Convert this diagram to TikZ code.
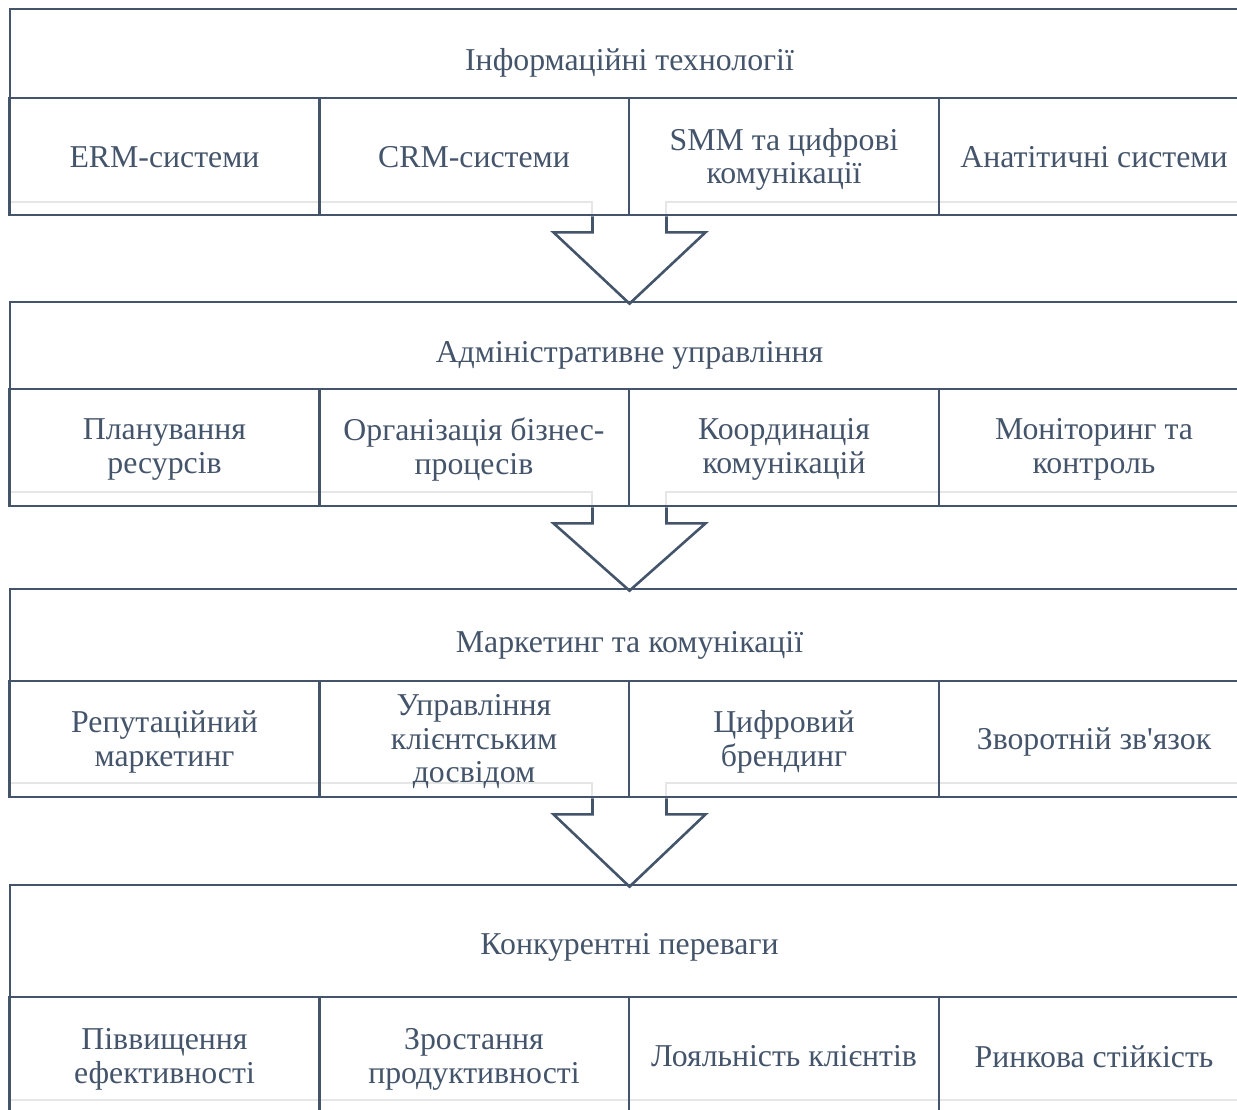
\documentclass[tikz,border=0pt]{standalone}
\usepackage{fontspec}
\setmainfont{Liberation Serif}
\usetikzlibrary{calc}
\definecolor{slate}{HTML}{44546A}
\definecolor{faint}{HTML}{E6E6E6}
\begin{document}
\begin{tikzpicture}[x=1pt,y=-1pt,
  txt/.style={inner sep=0pt, align=center, text=slate,
    font=\fontsize{31.8}{33.5}\selectfont},
  box/.style={draw=slate, line width=2.7pt, rectangle, inner sep=0pt},
  header/.style={box, minimum width=1239pt},
  cell/.style={box, minimum width=310pt},
  shade/.style={draw=faint, line width=2pt},
  flow/.style={draw=slate, line width=2.6pt, line join=miter}]
\useasboundingbox (0,0) rectangle (1237,1109);
\clip (0,0) rectangle (1237,1109);

% faint under-lines along the bottom of each row of cells
\foreach \y/\b in {202/215, 492/506, 783/797} {
  \draw[shade] (10,\y) -- (592,\y) -- (592,\b);
  \draw[shade] (666,\b) -- (666,\y) -- (1237,\y);
}
\draw[shade] (10,1100) -- (1237,1100);

% level 1
\node[header, minimum height=89pt,
  label={[txt, yshift=-9pt]center:Інформаційні технології}] (h1) at (629.5,53.5) {};
\node[cell, minimum height=117pt,
  label={[txt, yshift=-1pt]center:ERM-системи}] (c11) at (164.5,156.5) {};
\node[cell, minimum height=117pt,
  label={[txt, yshift=-1pt]center:CRM-системи}] (c12) at (474,156.5) {};
\node[cell, minimum height=117pt,
  label={[txt, yshift=-3pt]center:{SMM та цифрові\\комунікації}}] (c13) at (784,156.5) {};
\node[cell, minimum height=117pt,
  label={[txt, yshift=-1pt]center:Анатітичні системи}] (c14) at (1094,156.5) {};

% level 2
\node[header, minimum height=87pt,
  label={[txt, yshift=-10pt]center:Адміністративне управління}] (h2) at (629.5,345.5) {};
\node[cell, minimum height=117pt,
  label={[txt, yshift=-2pt]center:{Планування\\ресурсів}}] (c21) at (164.5,447.5) {};
\node[cell, minimum height=117pt,
  label={[txt, yshift=-2pt]center:{Організація бізнес-\\процесів}}] (c22) at (474,447.5) {};
\node[cell, minimum height=117pt,
  label={[txt, yshift=-2pt]center:{Координація\\комунікацій}}] (c23) at (784,447.5) {};
\node[cell, minimum height=117pt,
  label={[txt, yshift=-2pt]center:{Моніторинг та\\контроль}}] (c24) at (1094,447.5) {};

% level 3
\node[header, minimum height=92pt,
  label={[txt, yshift=-10pt]center:Маркетинг та комунікації}] (h3) at (629.5,635) {};
\node[cell, minimum height=116pt,
  label={[txt, yshift=-3pt]center:{Репутаційний\\маркетинг}}] (c31) at (164.5,739) {};
\node[cell, minimum height=116pt,
  label={[txt, yshift=-3pt]center:{Управління\\клієнтським\\досвідом}}] (c32) at (474,739) {};
\node[cell, minimum height=116pt,
  label={[txt, yshift=-3pt]center:{Цифровий\\брендинг}}] (c33) at (784,739) {};
\node[cell, minimum height=116pt,
  label={[txt, yshift=-3pt]center:Зворотній зв\textquotesingle язок}] (c34) at (1094,739) {};

% level 4
\node[header, minimum height=112pt,
  label={[txt, yshift=-6pt]center:Конкурентні переваги}] (h4) at (629.5,941) {};
\node[cell, minimum height=117pt,
  label={[txt, yshift=-4pt]center:{Піввищення\\ефективності}}] (c41) at (164.5,1055.5) {};
\node[cell, minimum height=117pt,
  label={[txt, yshift=-4pt]center:{Зростання\\продуктивності}}] (c42) at (474,1055.5) {};
\node[cell, minimum height=117pt,
  label={[txt, yshift=-1pt]center:Лояльність клієнтів}] (c43) at (784,1055.5) {};
\node[cell, minimum height=117pt,
  label={[txt, yshift=-1pt]center:Ринкова стійкість}] (c44) at (1094,1055.5) {};

% block arrows between levels
\foreach \from/\to in {c12/h2, c22/h3, c32/h4} {
  \coordinate (s) at (\from.south east -| \to.north);
  \coordinate (t) at (\to.north);
  \draw[flow] ($(s)+(-37,0)$) -- ($(s)+(-37,16)$) -- ($(s)+(-76,16)$)
    -- ($(t)+(0,3)$) -- ($(s)+(76,16)$) -- ($(s)+(37,16)$) -- ($(s)+(37,0)$);
}
\end{tikzpicture}
\end{document}
